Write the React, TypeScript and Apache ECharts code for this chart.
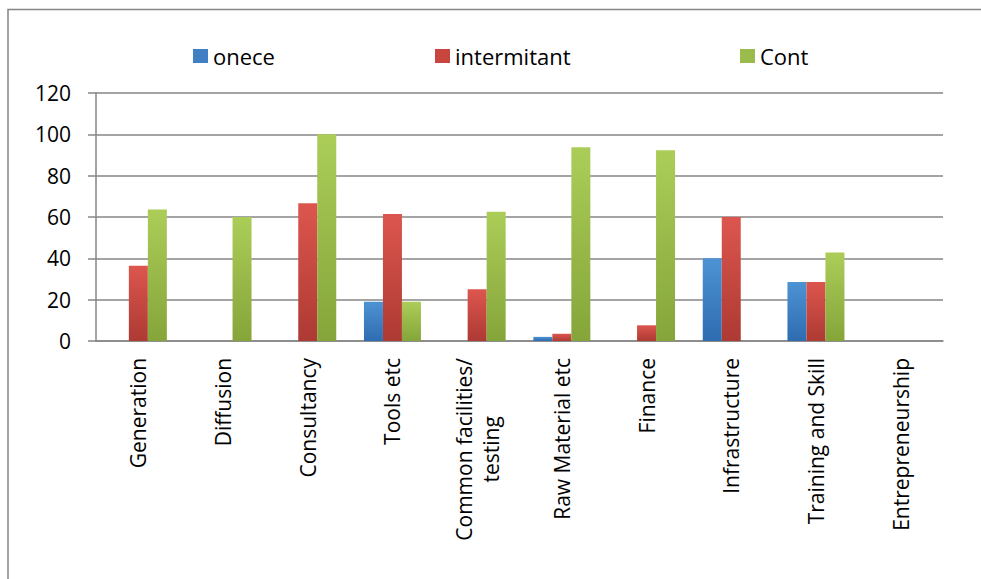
import React, { useEffect, useRef } from "react";
import * as echarts from "echarts";

// Support type categories along the horizontal axis
const categories: string[] = [
  "Generation",
  "Diffusion",
  "Consultancy",
  "Tools etc",
  "Common facilities/\ntesting",
  "Raw Material etc",
  "Finance",
  "Infrastructure",
  "Training and Skill",
  "Entrepreneurship",
];

// Percentages per frequency
const onece: number[] = [0, 0, 0, 19, 0, 2, 0, 40, 28.5, 0];
const intermitant: number[] = [36.4, 0, 66.7, 61.5, 25, 3.5, 7.6, 60, 28.5, 0];
const cont: number[] = [63.6, 60, 100, 19, 62.5, 93.7, 92.3, 0, 42.8, 0];

const yTicks = { min: 0, max: 120, interval: 20 };

const FONT = "'Open Sans', 'Noto Sans', sans-serif";

const grad = (top: string, bottom: string) =>
  new echarts.graphic.LinearGradient(0, 0, 0, 1, [
    { offset: 0, color: top },
    { offset: 1, color: bottom },
  ]);

export default function App() {
  const ref = useRef<HTMLDivElement>(null);

  useEffect(() => {
    if (!ref.current) return;
    const chart = echarts.init(ref.current, null, { renderer: "svg" });

    const defs = [
      { name: "onece", data: onece, top: "#4d93d4", bottom: "#2e6cb0", solid: "#3f80c4", left: 188 },
      { name: "intermitant", data: intermitant, top: "#dc564e", bottom: "#ad3a33", solid: "#c9463f", left: 430 },
      { name: "Cont", data: cont, top: "#abcd58", bottom: "#85a53a", solid: "#9bbb4c", left: 735 },
    ];

    const series = defs.map((s) => ({
      name: s.name,
      type: "bar" as const,
      data: s.data,
      barWidth: 19,
      barGap: "0%",
      itemStyle: { color: grad(s.top, s.bottom) },
      emphasis: { disabled: true },
    }));

    // one legend block per series so each key sits at its own spot
    const legends = defs.map((s) => ({
      left: s.left,
      top: 40,
      itemWidth: 15,
      itemHeight: 14,
      itemGap: 0,
      itemTextGap: 7,
      selectedMode: false,
      textStyle: { fontSize: 22, color: "#000", fontFamily: FONT },
      data: [{ name: s.name, icon: "rect", itemStyle: { color: s.solid, borderWidth: 0 } }],
    }));

    chart.setOption({
      animation: false,
      backgroundColor: "#ffffff",
      textStyle: { fontFamily: FONT },
      graphic: [
        {
          type: "rect",
          shape: { x: 8, y: 9.5, width: 1200, height: 800 },
          style: { fill: "none", stroke: "#858585", lineWidth: 1.5 },
          silent: true,
        },
      ],
      legend: legends,
      grid: { left: 96, right: 38, top: 93, bottom: 238, containLabel: false },
      xAxis: {
        type: "category",
        data: categories,
        axisLine: { lineStyle: { color: "#868686", width: 1.5 } },
        axisTick: { length: 7, lineStyle: { color: "#868686", width: 1.5 } },
        axisLabel: {
          interval: 0,
          rotate: 90,
          margin: 17,
          fontSize: 21,
          color: "#000",
          fontFamily: FONT,
          formatter: (v: string) =>
            v
              .split("\n")
              .map((line) => `{c|${line}}`)
              .join("\n"),
          rich: { c: { align: "center", fontSize: 21, fontFamily: FONT, color: "#000", lineHeight: 27 } },
        },
      },
      yAxis: {
        type: "value",
        min: yTicks.min,
        max: yTicks.max,
        interval: yTicks.interval,
        axisLine: { show: true, lineStyle: { color: "#868686", width: 1.5 } },
        axisTick: { show: true, length: 8, lineStyle: { color: "#868686", width: 1.5 } },
        splitLine: { lineStyle: { color: "#868686", width: 1.5 } },
        axisLabel: { margin: 25, fontSize: 21, color: "#000", fontFamily: FONT },
      },
      series,
    });

    return () => chart.dispose();
  }, []);

  return (
    <div
      ref={ref}
      style={{ position: "fixed", left: 0, top: 0, width: 981, height: 579, background: "#fff" }}
    />
  );
}
